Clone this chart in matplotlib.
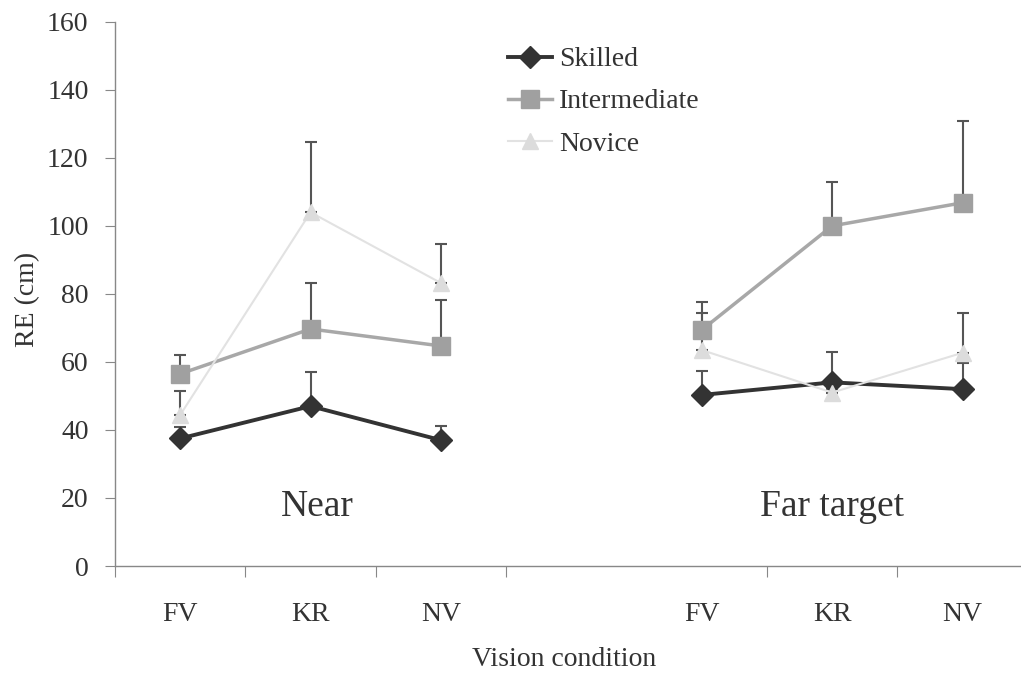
import numpy as np
import matplotlib
matplotlib.use("Agg")
import matplotlib.pyplot as plt

plt.rcParams['font.family'] = ['Liberation Serif', 'DejaVu Serif']

# slot positions: near = 1,2,3 ; far = 5,6,7 (slot 4 left empty)
near_x = [1, 2, 3]
far_x = [5, 6, 7]
conditions = ['FV', 'KR', 'NV']

skilled_near = [37.5, 47, 37]
skilled_near_err = [3.5, 10, 4.2]
skilled_far = [50.3, 54, 52]
skilled_far_err = [7, 9, 7.7]

inter_near = [56.5, 69.7, 64.7]
inter_near_err = [5.5, 13.5, 13.5]
inter_far = [69.4, 100, 106.8]
inter_far_err = [8.2, 13, 24]

novice_near = [44.4, 104, 83.2]
novice_near_err = [7, 20.7, 11.5]
novice_far = [63.5, 51, 62.7]
novice_far_err = [11, 1, 11.7]

fig = plt.figure(figsize=(10.21, 6.76), dpi=100)
ax = fig.add_axes([0.1126, 0.1627, 0.894, 0.805])

series = [
    ('Skilled', skilled_near, skilled_near_err, skilled_far, skilled_far_err,
     dict(color='#333333', lw=2.8, marker='D', ms=11, mfc='#333333', mec='#333333')),
    ('Intermediate', inter_near, inter_near_err, inter_far, inter_far_err,
     dict(color='#a8a8a8', lw=2.5, marker='s', ms=13, mfc='#a0a0a0', mec='#a0a0a0')),
    ('Novice', novice_near, novice_near_err, novice_far, novice_far_err,
     dict(color='#e2e2e2', lw=1.5, marker='^', ms=12, mfc='#dcdcdc', mec='#dcdcdc')),
]

for name, yn, en, yf, ef, st in series:
    for xs, ys, es, lab in [(near_x, yn, en, name), (far_x, yf, ef, None)]:
        ax.errorbar(xs, ys, yerr=[np.zeros(3), es], fmt='none', ecolor='#555555',
                    elinewidth=1.5, capsize=4, capthick=1.5, zorder=2)
        ax.plot(xs, ys, label=lab, zorder=3, **st)

ax.set_xlim(0.5, 7.5)
ax.set_ylim(0, 160)
ax.set_yticks(np.arange(0, 161, 20))
ax.set_xticks([0.5, 1.5, 2.5, 3.5, 5.5, 6.5])
ax.set_xticklabels([])
ax.set_xticks(near_x + far_x, minor=True)
ax.set_xticklabels(conditions * 2, minor=True)
ax.tick_params(axis='x', which='major', length=8, color='#888888')
ax.tick_params(axis='x', which='minor', length=0, pad=26, labelsize=20, labelcolor='#333333')
ax.tick_params(axis='y', length=7, color='#888888', labelsize=20, labelcolor='#333333', pad=12)

for s in ['top', 'right']:
    ax.spines[s].set_visible(False)
for s in ['left', 'bottom']:
    ax.spines[s].set_color('#888888')
    ax.spines[s].set_linewidth(1)

ax.set_ylabel('RE (cm)', fontsize=20, color='#333333')
ax.set_xlabel('Vision condition', fontsize=20, color='#333333')
ax.xaxis.set_label_coords(0.492, -0.148)
ax.yaxis.set_label_coords(-0.082, 0.49)

ax.text(2.05, 17.5, 'Near', fontsize=27, color='#333333', ha='center', va='center')
ax.text(6.0, 17.5, 'Far target', fontsize=27, color='#333333', ha='center', va='center')

ax.legend(loc='upper left', bbox_to_anchor=(0.403, 1.0), frameon=False, fontsize=20,
          labelspacing=0.6, handlelength=1.6, handletextpad=0.25, labelcolor='#333333')

fig.savefig('out.png', dpi=100)
